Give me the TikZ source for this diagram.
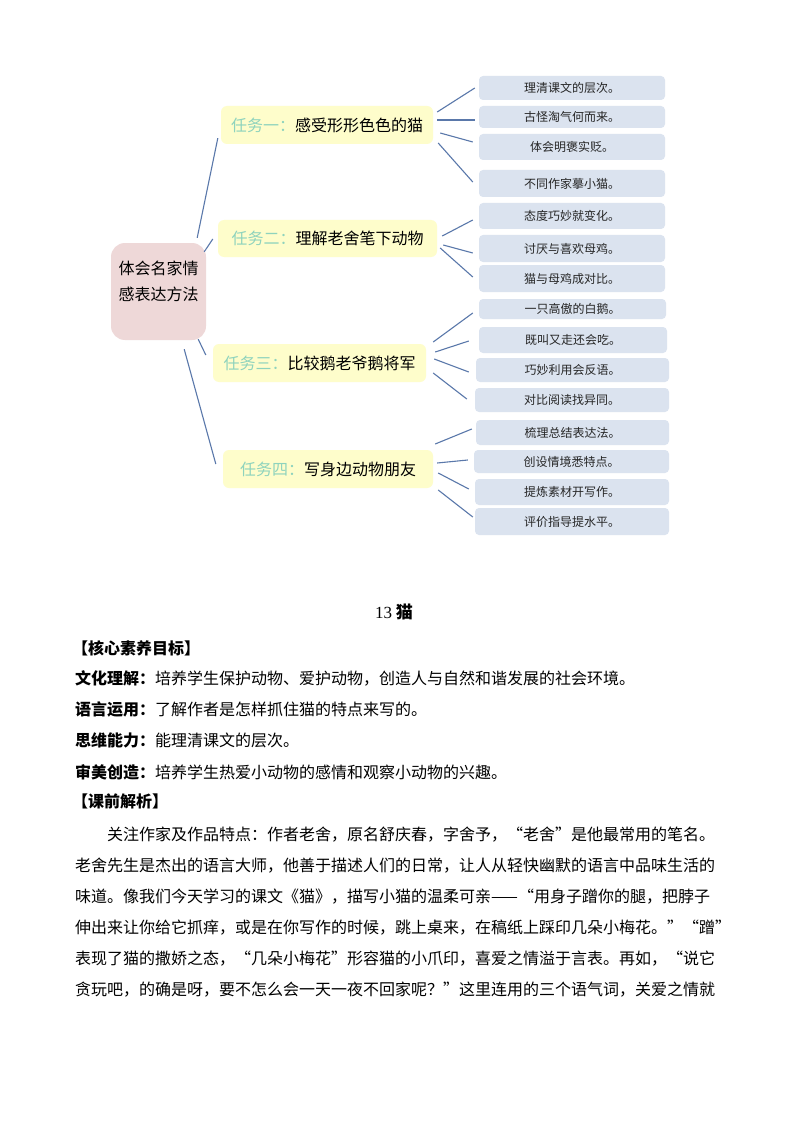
\documentclass[tikz,border=0pt]{standalone}
\usepackage{fontspec}
\setmainfont{Noto Sans CJK SC}
\newfontfamily\tnr{Liberation Serif}
\XeTeXlinebreaklocale "zh"
\XeTeXlinebreakskip=0pt plus 4pt minus 1pt
\definecolor{linec}{HTML}{5A78AA}
\definecolor{rootc}{HTML}{EED8D8}
\definecolor{taskc}{HTML}{FEFDCB}
\definecolor{leafc}{HTML}{DBE3EF}
\definecolor{tealc}{HTML}{8ED3BD}
\newcommand\lft[1]{#1\hspace{18pt}}
\begin{document}
\begin{tikzpicture}[x=1pt,y=-1pt,
  conn/.style={draw=linec, line width=1.1pt},
  rootbox/.style={fill=rootc, rounded corners=14pt, minimum width=95pt, minimum height=97pt, inner sep=0pt},
  taskbox/.style={fill=taskc, rounded corners=6pt, inner sep=0pt, font=\fontsize{16}{16}\selectfont},
  leafbox/.style={fill=leafc, rounded corners=4pt, inner sep=0pt, font=\fontsize{12}{12}\selectfont, text=black!85},
  bodyline/.style={anchor=west, inner sep=0pt, font=\fontsize{16}{16}\selectfont}]
\useasboundingbox[fill=white] (0,0) rectangle (794,1123);

% root
\node[rootbox] (root) at (158.5,291.5) {\raisebox{8pt}[0pt][0pt]{\parbox{90pt}{\centering\fontsize{16}{26}\selectfont 体会名家情\\感表达方法}}};

% tasks
\node[taskbox, minimum width=212pt, minimum height=38pt] (t1) at (327,125) {\textcolor{tealc}{任务一：}感受形形色色的猫};
\node[taskbox, minimum width=219pt, minimum height=37pt] (t2) at (327.5,238.5) {\textcolor{tealc}{任务二：}理解老舍笔下动物};
\node[taskbox, minimum width=213pt, minimum height=38pt] (t3) at (319.5,363) {\textcolor{tealc}{任务三：}比较鹅老爷鹅将军};
\node[taskbox, minimum width=210pt, minimum height=38pt] (t4) at (328,469) {\textcolor{tealc}{任务四：}写身边动物朋友};

% leaves
\node[leafbox, minimum width=186pt, minimum height=24pt] (l1) at (572,88) {\lft{理清课文的层次。}};
\node[leafbox, minimum width=186pt, minimum height=22pt] (l2) at (572,117) {\lft{古怪淘气何而来。}};
\node[leafbox, minimum width=186pt, minimum height=26pt] (l3) at (572,147) {\lft{体会明褒实贬。}};
\node[leafbox, minimum width=186pt, minimum height=27pt] (l4) at (572,183.5) {\lft{不同作家摹小猫。}};
\node[leafbox, minimum width=186pt, minimum height=26pt] (l5) at (572,216) {\lft{态度巧妙就变化。}};
\node[leafbox, minimum width=186pt, minimum height=27pt] (l6) at (572,248.5) {\lft{讨厌与喜欢母鸡。}};
\node[leafbox, minimum width=186pt, minimum height=27pt] (l7) at (572,278.5) {\lft{猫与母鸡成对比。}};
\node[leafbox, minimum width=187pt, minimum height=20pt] (l8) at (572.5,309) {\lft{一只高傲的白鹅。}};
\node[leafbox, minimum width=188pt, minimum height=26pt] (l9) at (573,340) {\lft{既叫又走还会吃。}};
\node[leafbox, minimum width=193pt, minimum height=24pt] (l10) at (572.5,370) {\lft{巧妙利用会反语。}};
\node[leafbox, minimum width=194pt, minimum height=24pt] (l11) at (572,400) {\lft{对比阅读找异同。}};
\node[leafbox, minimum width=193pt, minimum height=25pt] (l12) at (572.5,432.5) {\lft{梳理总结表达法。}};
\node[leafbox, minimum width=195pt, minimum height=23pt] (l13) at (571.5,461.5) {\lft{创设情境悉特点。}};
\node[leafbox, minimum width=194pt, minimum height=26pt] (l14) at (572,492) {\lft{提炼素材开写作。}};
\node[leafbox, minimum width=194pt, minimum height=27pt] (l15) at (572,521.5) {\lft{评价指导提水平。}};

% root connectors
\draw[conn] ([shift={(-9,-5)}]root.north east) -- ([shift={(-3,-6)}]t1.south west);
\draw[conn] ([shift={(-2,9)}]root.north east) -- ([shift={(-5,0.5)}]t2.west);
\draw[conn] ([shift={(-8,-1)}]root.south east) -- ([shift={(-7,-8)}]t3.west);
\draw[conn] ([shift={(-22,9)}]root.south east) -- ([shift={(-7,-5)}]t4.west);

% task 1 connectors
\draw[conn] ([shift={(4,-13)}]t1.east) -- ([shift={(-4,0)}]l1.west);
\draw[conn] ([shift={(4,-5)}]t1.east) -- ([shift={(-4,3)}]l2.west);
\draw[conn] ([shift={(7,8)}]t1.east) -- ([shift={(-6,-5)}]l3.west);
\draw[conn] ([shift={(5,18)}]t1.east) -- ([shift={(-6,-1.5)}]l4.west);
% task 2
\draw[conn] ([shift={(5,-2.5)}]t2.east) -- ([shift={(-6,4)}]l5.west);
\draw[conn] ([shift={(6,6.5)}]t2.east) -- ([shift={(-6,4.5)}]l6.west);
\draw[conn] ([shift={(3,9.5)}]t2.east) -- ([shift={(-6,-1.5)}]l7.west);
% task 3
\draw[conn] ([shift={(7,-21)}]t3.east) -- ([shift={(-6,4)}]l8.west);
\draw[conn] ([shift={(9,-11)}]t3.east) -- ([shift={(-10,1)}]l9.west);
\draw[conn] ([shift={(8,-4)}]t3.east) -- ([shift={(-7,2)}]l10.west);
\draw[conn] ([shift={(7,10)}]t3.east) -- ([shift={(-8,-1)}]l11.west);
% task 4
\draw[conn] ([shift={(2,-25)}]t4.east) -- ([shift={(-4,-3.5)}]l12.west);
\draw[conn] ([shift={(4,-6)}]t4.east) -- ([shift={(-6,-1.5)}]l13.west);
\draw[conn] ([shift={(5,4)}]t4.east) -- ([shift={(-6,-3)}]l14.west);
\draw[conn] ([shift={(5,21)}]t4.east) -- ([shift={(-2,-4.5)}]l15.west);

% title
\node[inner sep=0pt, font=\fontsize{17}{17}\selectfont] (title) at (394,612) {{\tnr 13} {\bfseries 猫}};

% objectives
\node[bodyline] (h1) at (72,648) {\bfseries 【核心素养目标】};
\node[bodyline] (g1) at (75,678) {\textbf{文化理解：}培养学生保护动物、爱护动物，创造人与自然和谐发展的社会环境。};
\node[bodyline] (g2) at (75,709) {\textbf{语言运用：}了解作者是怎样抓住猫的特点来写的。};
\node[bodyline] (g3) at (75,740) {\textbf{思维能力：}能理清课文的层次。};
\node[bodyline] (g4) at (75,772) {\textbf{审美创造：}培养学生热爱小动物的感情和观察小动物的兴趣。};
\node[bodyline] (h2) at (72,801) {\bfseries 【课前解析】};

% paragraph
\node[bodyline] (p1) at (107,835) {\makebox[611pt][s]{关注作家及作品特点：作者老舍，原名舒庆春，字舍予，“老舍”是他最常用的笔名。}};
\node[bodyline] (p2) at (75,866) {\makebox[643pt][s]{老舍先生是杰出的语言大师，他善于描述人们的日常，让人从轻快幽默的语言中品味生活的}};
\node[bodyline] (p3) at (75,897) {\makebox[643pt][s]{味道。像我们今天学习的课文《猫》，描写小猫的温柔可亲——“用身子蹭你的腿，把脖子}};
\node[bodyline] (p4) at (75,928) {\makebox[643pt][s]{伸出来让你给它抓痒，或是在你写作的时候，跳上桌来，在稿纸上踩印几朵小梅花。”“蹭”}};
\node[bodyline] (p5) at (75,959) {\makebox[643pt][s]{表现了猫的撒娇之态，“几朵小梅花”形容猫的小爪印，喜爱之情溢于言表。再如，“说它}};
\node[bodyline] (p6) at (75,990) {\makebox[631pt][s]{贪玩吧，的确是呀，要不怎么会一天一夜不回家呢？”这里连用的三个语气词，关爱之情就}};
\end{tikzpicture}
\end{document}
